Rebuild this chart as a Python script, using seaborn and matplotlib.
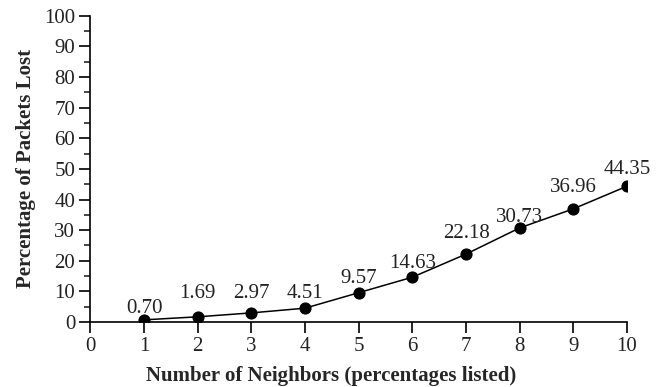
import matplotlib
matplotlib.use("Agg")
import matplotlib.pyplot as plt
import seaborn as sns
import pandas as pd
from matplotlib.ticker import MultipleLocator

neighbors = [1, 2, 3, 4, 5, 6, 7, 8, 9, 10]
pct_lost = [0.70, 1.69, 2.97, 4.51, 9.57, 14.63, 22.18, 30.73, 36.96, 44.35]

# hand-placed label lift above each point, in pixels
label_lift = [7, 19, 15, 10, 10, 9, 16, 6, 17, 12]

sns.set_theme(style="ticks")
plt.rcParams["font.family"] = ["Liberation Serif", "DejaVu Serif"]

df = pd.DataFrame({"n": neighbors, "pct": pct_lost})

fig = plt.figure(figsize=(6.6, 3.87), dpi=100)
ax = fig.add_axes([0.137, 0.168, 0.813, 0.791])

sns.lineplot(data=df, x="n", y="pct", ax=ax, color="black", lw=1.1,
             marker="o", markersize=8, markeredgecolor="black")

for x, y, dy in zip(neighbors, pct_lost, label_lift):
    ax.annotate(f"{y:.2f}", (x, y), xytext=(0, dy), textcoords="offset pixels",
                ha="center", va="baseline", fontsize=15, color="#222222")

ax.set_xlim(0, 10)
ax.set_ylim(0, 100)
ax.set_xticks(range(0, 11))
ax.yaxis.set_major_locator(MultipleLocator(10))
ax.yaxis.set_minor_locator(MultipleLocator(5))
ax.tick_params(axis="both", which="major", length=8, width=1.2, labelsize=15,
               colors="black", labelcolor="#222222", direction="out", pad=3)
ax.tick_params(axis="y", which="minor", length=4, width=1.2, direction="out")
for side in ("left", "bottom"):
    ax.spines[side].set_linewidth(1.2)
    ax.spines[side].set_color("black")
sns.despine(ax=ax)

ax.set_xlabel("Number of Neighbors (percentages listed)", fontsize=15,
              fontweight="bold")
ax.xaxis.set_label_coords(0.449, -0.145)
ax.set_ylabel("Percentage of Packets Lost", fontsize=15, fontweight="bold",
              labelpad=6)

fig.savefig("out.png", dpi=100)
